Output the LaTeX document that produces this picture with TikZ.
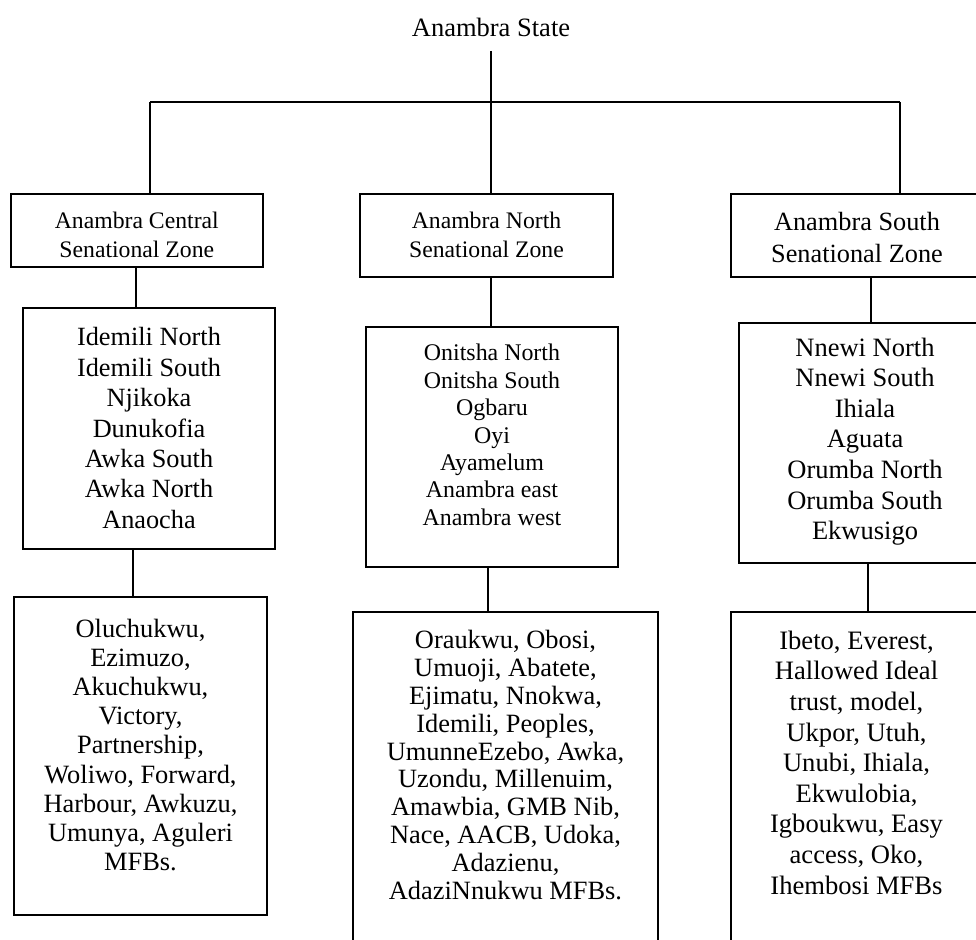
\documentclass[tikz,border=0pt]{standalone}
\usepackage{fontspec}
\setmainfont{Liberation Serif}
\begin{document}
\begin{tikzpicture}[x=1pt,y=-1pt,
  box/.style={draw, line width=1.8pt, rectangle, inner sep=0pt, outer sep=0pt},
  txt/.style={align=center, inner sep=0pt},
  conn/.style={line width=1.8pt}]
\useasboundingbox (0,0) rectangle (976,939);
\clip (0,0) rectangle (976,939);
\fill[white] (0,0) rectangle (976,939);

% title
\node[txt, font=\fontsize{26.5}{30}\selectfont] (state) at (491,27) {Anambra State};

% zone boxes
\node[box, minimum width=252.4pt, minimum height=73pt] (cz) at (136.8,230.5) {};
\node[box, minimum width=253pt, minimum height=83pt] (nz) at (486.5,235.5) {};
\node[box, minimum width=252pt, minimum height=83pt] (sz) at (857,235.5) {};
\node[txt, font=\fontsize{23.7}{29}\selectfont] (czt) at (136.8,234.5) {Anambra Central\\Senational Zone};
\node[txt, font=\fontsize{23.7}{29}\selectfont] (nzt) at (486.5,234.5) {Anambra North\\Senational Zone};
\node[txt, font=\fontsize{26.3}{32}\selectfont] (szt) at (857,238) {Anambra South\\Senational Zone};

% LGA list boxes
\node[box, minimum width=252pt, minimum height=241pt] (cl) at (149,428.5) {};
\node[box, minimum width=252pt, minimum height=240pt] (nl) at (492,447) {};
\node[box, minimum width=252pt, minimum height=240pt] (sl) at (865,443) {};
\node[txt, font=\fontsize{26.3}{30.4}\selectfont] (clt) at (149,428) {Idemili North\\Idemili South\\Njikoka\\Dunukofia\\Awka South\\Awka North\\Anaocha};
\node[txt, font=\fontsize{23.9}{27.4}\selectfont] (nlt) at (492,435) {Onitsha North\\Onitsha South\\Ogbaru\\Oyi\\Ayamelum\\Anambra east\\Anambra west};
\node[txt, font=\fontsize{26.5}{30.6}\selectfont] (slt) at (865,441.5) {Nnewi North\\Nnewi South\\Ihiala\\Aguata\\Orumba North\\Orumba South\\Ekwusigo};

% MFB boxes
\node[box, minimum width=253pt, minimum height=318pt] (cm) at (140.5,756) {};
\node[box, minimum width=305pt, minimum height=348pt] (nm) at (505.5,786) {};
\node[box, minimum width=251pt, minimum height=348pt] (sm) at (856.5,786) {};
\node[txt, font=\fontsize{26.4}{29.2}\selectfont] (cmt) at (140.5,745) {Oluchukwu,\\Ezimuzo,\\Akuchukwu,\\Victory,\\Partnership,\\Woliwo, Forward,\\Harbour, Awkuzu,\\Umunya, Aguleri\\MFBs.};
\node[txt, font=\fontsize{26.4}{27.8}\selectfont] (nmt) at (505.5,765) {Oraukwu, Obosi,\\Umuoji, Abatete,\\Ejimatu, Nnokwa,\\Idemili, Peoples,\\UmunneEzebo, Awka,\\Uzondu, Millenuim,\\Amawbia, GMB Nib,\\Nace, AACB, Udoka,\\Adazienu,\\AdaziNnukwu MFBs.};
\node[txt, font=\fontsize{26.6}{30.6}\selectfont] (smt) at (856.5,762.5) {Ibeto, Everest,\\Hallowed Ideal\\trust, model,\\Ukpor, Utuh,\\Unubi, Ihiala,\\Ekwulobia,\\Igboukwu, Easy\\access, Oko,\\Ihembosi MFBs};

% connectors
\coordinate (top) at (491,51);
\coordinate (bar) at (491,102);
\coordinate (barL) at (150,102);
\coordinate (barR) at (900,102);
\draw[conn] (top) -- (bar);
\draw[conn] (barL) -- (barR);
\draw[conn] (barL) -- (barL |- cz.north);
\draw[conn] (bar) -- (bar |- nz.north);
\draw[conn] (barR) -- (barR |- sz.north);

\draw[conn] (cz.south -| 136,0) -- (cl.north -| 136,0);
\draw[conn] (nz.south -| 491,0) -- (nl.north -| 491,0);
\draw[conn] (sz.south -| 871,0) -- (sl.north -| 871,0);

\draw[conn] (cl.south -| 133,0) -- (cm.north -| 133,0);
\draw[conn] (nl.south -| 488,0) -- (nm.north -| 488,0);
\draw[conn] (sl.south -| 868,0) -- (sm.north -| 868,0);
\end{tikzpicture}
\end{document}
